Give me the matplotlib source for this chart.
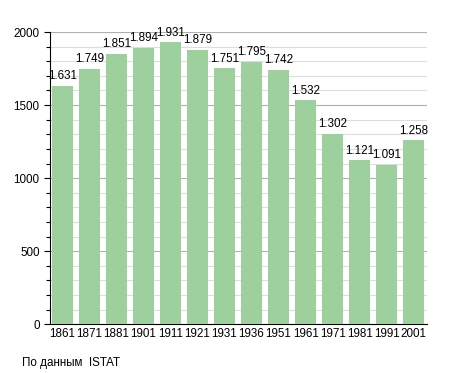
import matplotlib.pyplot as plt
from matplotlib.ticker import MultipleLocator

plt.rcParams['font.family'] = ['Liberation Sans', 'DejaVu Sans']

years = ['1861', '1871', '1881', '1901', '1911', '1921', '1931',
         '1936', '1951', '1961', '1971', '1981', '1991', '2001']
population = [1631, 1749, 1851, 1894, 1931, 1879, 1751,
              1795, 1742, 1532, 1302, 1121, 1091, 1258]

fig = plt.figure(figsize=(4.55, 3.73), dpi=100)
ax = fig.add_axes([0.11, 0.131, 0.828, 0.783])

x = range(len(years))
ax.bar(x, population, width=0.78, color='#9dd09d', zorder=3)

for i, v in zip(x, population):
    label = '{:,}'.format(v).replace(',', '.')
    ax.text(i, v + 25, label, ha='center', va='bottom', fontsize=8.4, zorder=4)

ax.set_xlim(-0.45, 13.48)
ax.set_ylim(0, 2000)
ax.set_xticks(list(x))
ax.set_xticklabels(years, fontsize=8.4)
ax.yaxis.set_major_locator(MultipleLocator(500))
ax.yaxis.set_minor_locator(MultipleLocator(100))
ax.tick_params(axis='y', which='major', labelsize=8.4, length=4, width=0.8)
ax.tick_params(axis='y', which='minor', length=3, width=0.8)
ax.tick_params(axis='x', length=0, pad=3)

ax.grid(axis='y', which='major', color='#b0b0b0', linewidth=0.8, zorder=0)
ax.grid(axis='y', which='minor', color='#dddddd', linewidth=0.8, zorder=0)
ax.spines['top'].set_visible(False)
ax.spines['right'].set_visible(False)

fig.text(0.048, 0.02, 'По данным  ISTAT', fontsize=8.4)

fig.savefig('out.png')
